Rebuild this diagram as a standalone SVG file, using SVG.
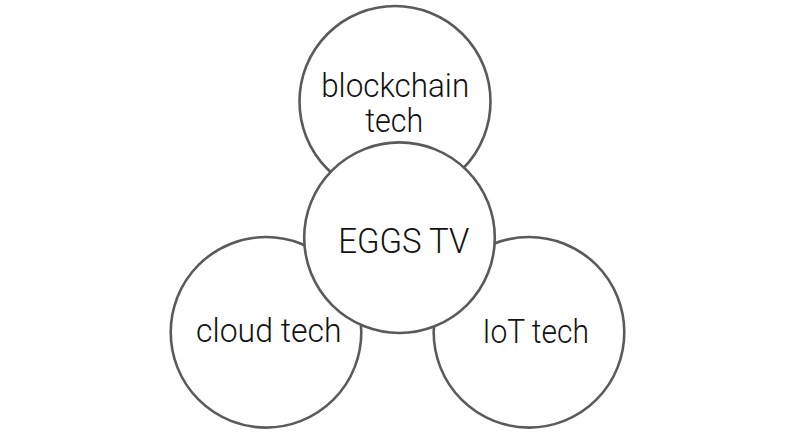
<svg xmlns="http://www.w3.org/2000/svg" width="788" height="444" viewBox="0 0 788 444">
<style>
.c{fill:#fff;stroke:#5a5a5a;stroke-width:2.6}
.t{font-family:Roboto,"Liberation Sans",sans-serif;font-weight:300;font-size:34px;fill:#111;text-anchor:middle}
.s{font-size:33px}
</style>
<rect width="788" height="444" fill="#fff"/>
<g id="connectors"></g>
<g id="node-blockchain">
<circle class="c" cx="395" cy="101.5" r="95.5"/>
<text class="t s" x="395.2" y="96.7" textLength="148" lengthAdjust="spacingAndGlyphs">blockchain</text>
<text class="t s" x="394.2" y="131.7" textLength="58" lengthAdjust="spacingAndGlyphs">tech</text>
</g>
<g id="node-cloud">
<circle class="c" cx="266" cy="332.3" r="95.3"/>
<text class="t" x="268.8" y="341.7" textLength="145.5" lengthAdjust="spacingAndGlyphs">cloud tech</text>
</g>
<g id="node-iot">
<circle class="c" cx="529" cy="332.3" r="95.3"/>
<text class="t" x="535.7" y="343.3" textLength="106.5" lengthAdjust="spacingAndGlyphs">IoT tech</text>
</g>
<g id="node-eggs">
<circle class="c" cx="399.5" cy="237.7" r="95.3"/>
<text class="t" x="403.8" y="253.3" textLength="131" lengthAdjust="spacingAndGlyphs" style="font-size:35px">EGGS TV</text>
</g>
</svg>
